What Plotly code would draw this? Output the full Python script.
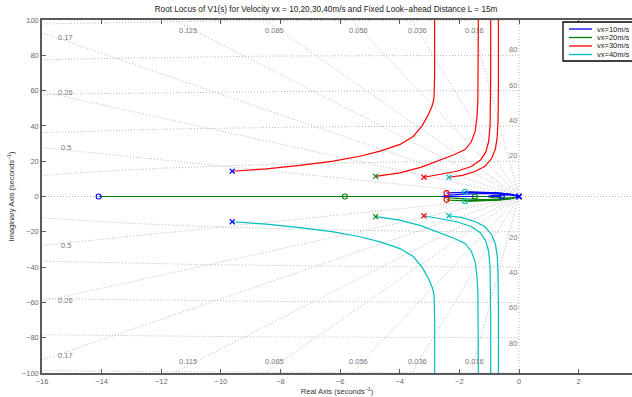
import numpy as np
import plotly.graph_objects as go

BLUE = '#0000ff'
GREEN = '#008000'
RED = '#ff0000'
CYAN = '#00bfbf'
GRID = '#b8b8b8'
LBL = '#7a7a7a'
FONT = 'Liberation Sans, Arial, sans-serif'

legend_names = ['vx=10m/s', 'vx=20m/s', 'vx=30m/s', 'vx=40m/s']
legend_colors = [BLUE, GREEN, RED, CYAN]
system_colors = [BLUE, GREEN, RED, CYAN]

# ---- open-loop poles (upper member of complex pair), per velocity ----
pole_re = [-9.62, -4.81, -3.19, -2.35]
pole_im = [14.3, 11.4, 10.9, 10.9]
# double pole at origin for every system
origin_pole_re = [0.0, 0.0, 0.0, 0.0]
origin_pole_im = [0.0, 0.0, 0.0, 0.0]

# ---- zeros, per velocity ----
zero_re = [[-14.1, -0.58], [-5.84, -1.48], [-2.43, -2.43], [-1.81, -1.81]]
zero_im = [[0.0, 0.0], [0.0, 0.0], [1.9, -1.9], [2.65, -2.65]]

# ---- upper complex branches (red), one per velocity ----
red_x = [
    [-9.62, -8.47, -7.35, -6.23, -5.34, -4.66, -3.99, -3.55, -3.25, -3.02, -2.9, -2.85, -2.83, -2.83],
    [-4.81, -4.0, -3.3, -2.65, -2.2, -1.81, -1.6, -1.47, -1.41, -1.38, -1.37, -1.36, -1.36],
    [-3.19, -2.6, -2.09, -1.6, -1.3, -1.12, -1.02, -0.97, -0.955, -0.95, -0.95],
    [-2.35, -1.9, -1.5, -1.15, -0.92, -0.79, -0.73, -0.70, -0.69, -0.69],
]
red_y = [
    [14.3, 15.7, 17.6, 20.0, 22.8, 25.7, 29.5, 34.0, 40.0, 47.0, 52.0, 56.0, 70.0, 110.0],
    [11.4, 13.4, 16.5, 20.5, 23.5, 26.6, 31.0, 37.0, 45.0, 55.0, 65.0, 80.0, 110.0],
    [10.9, 12.5, 14.3, 17.0, 20.5, 25.0, 31.0, 40.0, 52.0, 70.0, 110.0],
    [10.9, 12.0, 14.0, 17.0, 21.5, 27.0, 34.0, 45.0, 65.0, 110.0],
]
# ---- lower complex branches (cyan), one per velocity ----
cyan_x = [
    [-9.62, -8.47, -7.35, -6.23, -5.34, -4.66, -3.99, -3.55, -3.25, -3.02, -2.9, -2.85, -2.83, -2.83],
    [-4.81, -4.0, -3.3, -2.65, -2.2, -1.81, -1.6, -1.47, -1.41, -1.38, -1.37, -1.36, -1.36],
    [-3.19, -2.6, -2.09, -1.6, -1.3, -1.12, -1.02, -0.97, -0.955, -0.95, -0.95],
    [-2.35, -1.9, -1.5, -1.15, -0.92, -0.79, -0.73, -0.70, -0.69, -0.69],
]
cyan_y = [
    [-14.3, -15.7, -17.6, -20.0, -22.8, -25.7, -29.5, -34.0, -40.0, -47.0, -52.0, -56.0, -70.0, -110.0],
    [-11.4, -13.4, -16.5, -20.5, -23.5, -26.6, -31.0, -37.0, -45.0, -55.0, -65.0, -80.0, -110.0],
    [-10.9, -12.5, -14.3, -17.0, -20.5, -25.0, -31.0, -40.0, -52.0, -70.0, -110.0],
    [-10.9, -12.0, -14.0, -17.0, -21.5, -27.0, -34.0, -45.0, -65.0, -110.0],
]
# ---- branches leaving the origin upward (blue), one per velocity ----
blue_x = [
    [0.0, -0.1, -0.3, -0.6, -0.85, -1.0, -1.05, -0.58],
    [0.0, -0.2, -0.6, -1.2, -1.8, -2.3, -2.6, -1.48],
    [0.0, -0.25, -0.7, -1.3, -1.9, -2.3, -2.43],
    [0.0, -0.25, -0.7, -1.2, -1.6, -1.81],
]
blue_y = [
    [0.0, 0.5, 0.9, 0.9, 0.6, 0.2, 0.0, 0.0],
    [0.0, 0.9, 1.5, 1.7, 1.4, 0.8, 0.0, 0.0],
    [0.0, 1.1, 1.9, 2.3, 2.3, 2.1, 1.9],
    [0.0, 1.2, 2.1, 2.6, 2.7, 2.65],
]
# ---- branches leaving the origin downward (green), one per velocity ----
green_x = [
    [0.0, -0.1, -0.3, -0.6, -0.85, -1.0, -1.05, -14.1],
    [0.0, -0.2, -0.6, -1.2, -1.8, -2.3, -2.6, -5.84],
    [0.0, -0.25, -0.7, -1.3, -1.9, -2.3, -2.43],
    [0.0, -0.25, -0.7, -1.2, -1.6, -1.81],
]
green_y = [
    [0.0, -0.5, -0.9, -0.9, -0.6, -0.2, 0.0, 0.0],
    [0.0, -0.9, -1.5, -1.7, -1.4, -0.8, 0.0, 0.0],
    [0.0, -1.1, -1.9, -2.3, -2.3, -2.1, -1.9],
    [0.0, -1.2, -2.1, -2.6, -2.7, -2.65],
]

# ---- s-plane grid ----
zeta_vals = [0.016, 0.036, 0.056, 0.085, 0.115, 0.17, 0.26, 0.5]
wn_vals = [20, 40, 60, 80, 100]
zeta_top_labels = ['0.115', '0.085', '0.056', '0.036', '0.016']
zeta_top_x = [-11.1, -8.2, -5.4, -3.4, -1.5]
zeta_left_labels = ['0.17', '0.26', '0.5']
zeta_left_y = [90.0, 59.0, 27.8]
wn_labels = ['80', '60', '40', '20']
wn_label_y = [80, 60, 40, 20]

# plot-area geometry in page pixels
PL, PR, PT, PB = 42, 632, 20, 373
W, H = 632, 397


def px(xp):
    return (xp - PL) / (PR - PL)


def py(yp):
    return (PB - yp) / (PB - PT)


fig = go.Figure()

grid_line = dict(color=GRID, width=1, dash='1px,2px')
for z in zeta_vals:
    r = 300.0
    wd = np.sqrt(1 - z * z)
    fig.add_trace(go.Scatter(x=[0, -r * z, None, 0, -r * z], y=[0, r * wd, None, 0, -r * wd],
                             mode='lines', line=grid_line, showlegend=False, hoverinfo='skip'))
th = np.linspace(np.pi / 2, 3 * np.pi / 2, 400)
for w in wn_vals:
    fig.add_trace(go.Scatter(x=w * np.cos(th), y=w * np.sin(th), mode='lines', line=grid_line,
                             showlegend=False, hoverinfo='skip'))
fig.add_trace(go.Scatter(x=[-16, 3.8], y=[0, 0], mode='lines', line=grid_line, showlegend=False, hoverinfo='skip'))
fig.add_trace(go.Scatter(x=[0, 0], y=[-100, 100], mode='lines', line=grid_line, showlegend=False, hoverinfo='skip'))

LW = 1.2
for i in range(4):
    fig.add_trace(go.Scatter(x=green_x[i], y=green_y[i], mode='lines', line=dict(color=GREEN, width=LW),
                             showlegend=False))
for i in range(4):
    fig.add_trace(go.Scatter(x=blue_x[i], y=blue_y[i], mode='lines', line=dict(color=BLUE, width=LW),
                             showlegend=False))
for i in range(4):
    fig.add_trace(go.Scatter(x=red_x[i], y=red_y[i], mode='lines', line=dict(color=RED, width=LW),
                             showlegend=False))
for i in range(4):
    fig.add_trace(go.Scatter(x=cyan_x[i], y=cyan_y[i], mode='lines', line=dict(color=CYAN, width=LW),
                             showlegend=False))

for i in range(4):
    c = system_colors[i]
    fig.add_trace(go.Scatter(x=[pole_re[i], pole_re[i]], y=[pole_im[i], -pole_im[i]], mode='markers',
                             marker=dict(symbol='x-thin', size=5, line=dict(color=c, width=1.1)),
                             showlegend=False))
    fig.add_trace(go.Scatter(x=zero_re[i], y=zero_im[i], mode='markers',
                             marker=dict(symbol='circle-open', size=5, color=c, line=dict(color=c, width=1.1)),
                             showlegend=False))
fig.add_trace(go.Scatter(x=origin_pole_re, y=origin_pole_im, mode='markers',
                         marker=dict(symbol='x-thin', size=5, line=dict(color=BLUE, width=1.1)),
                         showlegend=False))

ann = []
af = dict(family=FONT, size=7.5, color=LBL)
for lab, x in zip(zeta_top_labels, zeta_top_x):
    ann.append(dict(x=x, y=94.3, text=lab, showarrow=False, font=af))
    ann.append(dict(x=x, y=-93.5, text=lab, showarrow=False, font=af))
for lab, y in zip(zeta_left_labels, zeta_left_y):
    ann.append(dict(x=-15.2, y=y, text=lab, showarrow=False, font=af))
    ann.append(dict(x=-15.2, y=-y, text=lab, showarrow=False, font=af))
for lab, y in zip(wn_labels, wn_label_y):
    ann.append(dict(x=0, y=y, text=lab, showarrow=False, font=af, xanchor='right', yanchor='bottom', yshift=-1))
    ann.append(dict(x=0, y=-y, text=lab, showarrow=False, font=af, xanchor='right', yanchor='top', yshift=1))

# ---- compact legend box (MATLAB style) ----
shapes = []
shapes.append(dict(type='rect', xref='paper', yref='paper', x0=px(563), x1=px(645), y0=py(61), y1=py(22),
                   fillcolor='white', line=dict(color='black', width=1.3), layer='above'))
row_y = [29.0, 37.5, 46.0, 54.5]
for name, col, ry in zip(legend_names, legend_colors, row_y):
    shapes.append(dict(type='line', xref='paper', yref='paper', x0=px(569), x1=px(592), y0=py(ry), y1=py(ry),
                       line=dict(color=col, width=1.3), layer='above'))
    ann.append(dict(xref='paper', yref='paper', x=px(595), y=py(ry), text=name, showarrow=False,
                    xanchor='left', yanchor='middle', font=dict(family=FONT, size=7.5, color='#222')))

axis_common = dict(showline=True, linecolor='#5a5a5a', linewidth=1.5, ticks='inside', ticklen=4,
                   tickcolor='#5a5a5a', showgrid=False, zeroline=False,
                   tickfont=dict(family=FONT, size=7.5, color='#6a6a6a'))
fig.update_layout(
    width=W, height=H,
    margin=dict(l=PL, r=W - PR, t=PT, b=H - PB, autoexpand=False),
    paper_bgcolor='white', plot_bgcolor='white',
    title=dict(text='Root Locus of V1(s) for Velocity vx = 10,20,30,40m/s and Fixed Look\u2212ahead Distance L = 15m',
               x=px(326), xref='paper', xanchor='center', y=1 - 9.5 / H, yanchor='middle',
               font=dict(family=FONT, size=8.2, color='#222')),
    xaxis=dict(range=[-16, 3.79], tickvals=list(range(-16, 3, 2)), mirror='ticks',
               title=dict(text='Real Axis (seconds<sup>\u22121</sup>)', standoff=0,
                          font=dict(family=FONT, size=7.5, color='#333')), **axis_common),
    yaxis=dict(range=[-100, 100], tickvals=list(range(-100, 101, 20)), mirror=False,
               title=dict(text='Imaginary Axis (seconds<sup>\u22121</sup>)', standoff=6,
                          font=dict(family=FONT, size=7.5, color='#333')), **axis_common),
    annotations=ann,
    shapes=shapes,
    showlegend=False,
)

# remove the browser's default 8px body margin so the figure sits at the page origin
fig.write_html('out.html', config={'displayModeBar': False},
               post_script="document.body.style.margin='0px';")
